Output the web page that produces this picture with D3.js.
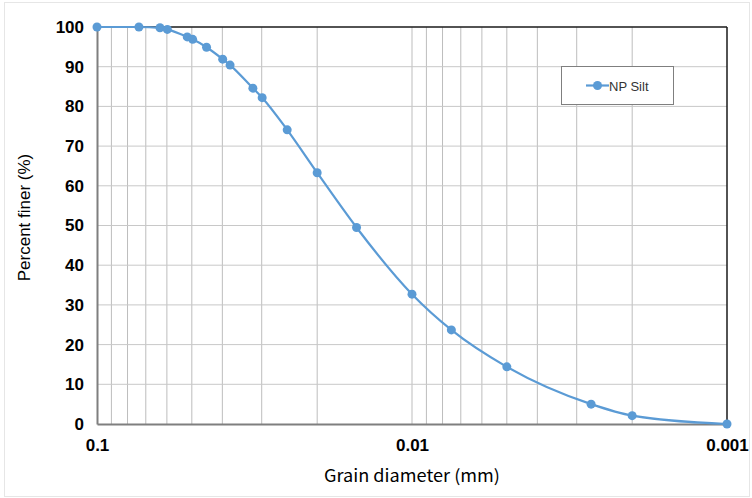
<!DOCTYPE html>
<html>
<head>
<meta charset="utf-8">
<script src="https://cdn.jsdelivr.net/npm/d3@7"></script>
<style>
  body { margin: 0; background: #fff; }
  svg { display: block; }
</style>
</head>
<body>
<svg id="chart"></svg>
<script>
// grain size distribution
const diameters = [0.1, 0.0736, 0.0631, 0.0598, 0.0517, 0.0497, 0.0449, 0.0399, 0.0378,
                   0.032, 0.0299, 0.0249, 0.02, 0.015, 0.01, 0.0075, 0.005, 0.0027, 0.002, 0.001]
const percentFiner = [100, 100, 99.8, 99.4, 97.5, 96.9, 94.9, 91.9, 90.4,
                      84.6, 82.2, 74.1, 63.3, 49.5, 32.7, 23.7, 14.4, 5.0, 2.1, 0]
const xTicks = [0.1, 0.01, 0.001]
const xTickLabels = ["0.1", "0.01", "0.001"]
const yTicks = [0, 10, 20, 30, 40, 50, 60, 70, 80, 90, 100]
const seriesName = "NP Silt"

const W = 752, H = 498
const margin = {top: 27, right: 25, bottom: 74, left: 97}
const width = W - margin.left - margin.right
const height = H - margin.top - margin.bottom
const blue = "#5b9bd5"

const svg = d3.select("#chart").attr("width", W).attr("height", H)

// faint outer frame
svg.append("rect")
  .attr("x", 4.5).attr("y", 2.5).attr("width", W - 7).attr("height", H - 4)
  .attr("fill", "none").attr("stroke", "#e6e6e6")

const g = svg.append("g").attr("transform", `translate(${margin.left}, ${margin.top})`)

const xScale = d3.scaleLog().domain([0.1, 0.001]).range([0, width])
const yScale = d3.scaleLinear().domain([0, 100]).range([height, 0])

// minor log grid (2..9 in each decade)
const minor = []
;[0.001, 0.01].forEach(dec => { for (let k = 2; k <= 9; k++) minor.push(dec * k) })
g.selectAll(".vgrid")
  .data(minor.concat([0.01]))
  .enter().append("line")
  .attr("x1", d => xScale(d)).attr("x2", d => xScale(d))
  .attr("y1", 0).attr("y2", height)
  .attr("stroke", "#bdbdbd").attr("stroke-width", 1)

g.selectAll(".hgrid")
  .data(yTicks.slice(1, -1))
  .enter().append("line")
  .attr("x1", 0).attr("x2", width)
  .attr("y1", d => yScale(d)).attr("y2", d => yScale(d))
  .attr("stroke", "#c8c8c8").attr("stroke-width", 1)

// frame: top/right black, left/bottom grey axes
g.append("line").attr("x1", 0).attr("x2", width).attr("y1", 0).attr("y2", 0)
  .attr("stroke", "#1a1a1a").attr("stroke-width", 1.5)
g.append("line").attr("x1", width).attr("x2", width).attr("y1", 0).attr("y2", height)
  .attr("stroke", "#1a1a1a").attr("stroke-width", 1.5)

// axes
const xAxis = g.append("g")
  .attr("transform", `translate(0, ${height})`)
  .call(d3.axisBottom(xScale).tickValues(xTicks).tickSize(0).tickPadding(15)
    .tickFormat((d, i) => xTickLabels[i]))
xAxis.select(".domain").attr("stroke", "#7f7f7f").attr("stroke-width", 2)

const yAxis = g.append("g")
  .call(d3.axisLeft(yScale).tickValues(yTicks).tickSize(0).tickPadding(13))
yAxis.select(".domain").attr("stroke", "#7f7f7f").attr("stroke-width", 2)

svg.selectAll(".tick text")
  .attr("font-family", "Liberation Sans, Arial, sans-serif")
  .attr("font-size", 17)
  .attr("font-weight", "bold")
  .attr("fill", "#000")

// axis titles
g.append("text")
  .attr("x", width / 2 + 0).attr("y", height + 58)
  .attr("text-anchor", "middle")
  .attr("font-family", "Noto Sans CJK JP, sans-serif")
  .attr("font-size", 17)
  .attr("textLength", 176)
  .attr("lengthAdjust", "spacingAndGlyphs")
  .text("Grain diameter (mm)")

g.append("text")
  .attr("transform", "rotate(-90)")
  .attr("x", -height / 2 + 8).attr("y", -67)
  .attr("text-anchor", "middle")
  .attr("font-family", "Liberation Sans, Arial, sans-serif")
  .attr("font-size", 17)
  .text("Percent finer (%)")

// curve
const pts = diameters.map((d, i) => [d, percentFiner[i]])
g.append("path")
  .datum(pts)
  .attr("fill", "none")
  .attr("stroke", blue)
  .attr("stroke-width", 2.2)
  .attr("d", d3.line()
    .x(d => xScale(d[0]))
    .y(d => yScale(d[1]))
    .curve(d3.curveMonotoneX))

g.selectAll("circle.pt")
  .data(pts)
  .enter().append("circle")
  .attr("class", "pt")
  .attr("cx", d => xScale(d[0]))
  .attr("cy", d => yScale(d[1]))
  .attr("r", 4.5)
  .attr("fill", blue)

// legend
const lg = svg.append("g").attr("transform", "translate(561, 66)")
lg.append("rect").attr("x", 0.5).attr("y", 0.5).attr("width", 112).attr("height", 38)
  .attr("fill", "#fff").attr("stroke", "#7f7f7f")
lg.append("line").attr("x1", 25).attr("x2", 48).attr("y1", 19.5).attr("y2", 19.5)
  .attr("stroke", blue).attr("stroke-width", 2.2)
lg.append("circle").attr("cx", 36.5).attr("cy", 19.5).attr("r", 4.5).attr("fill", blue)
lg.append("text").attr("x", 48).attr("y", 24.5)
  .attr("font-family", "Liberation Sans, Arial, sans-serif")
  .attr("font-size", 13)
  .attr("fill", "#333")
  .text(seriesName)
</script>
</body>
</html>
